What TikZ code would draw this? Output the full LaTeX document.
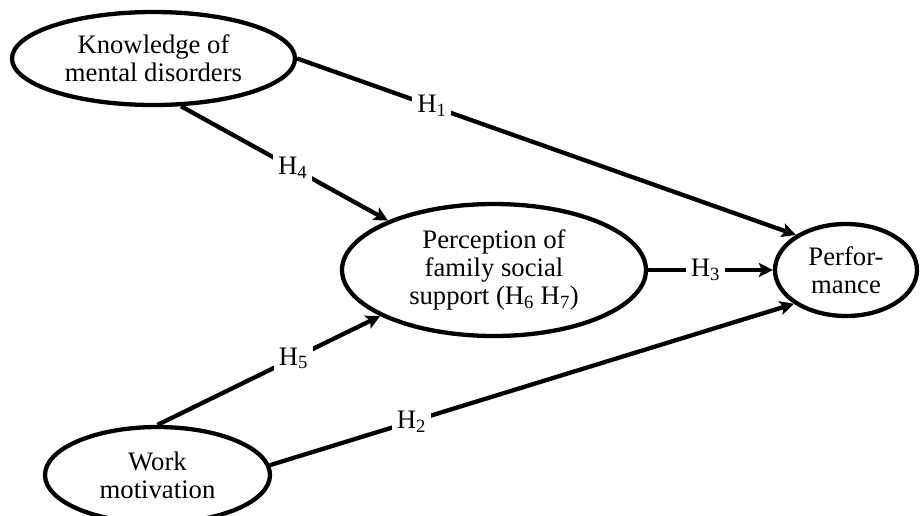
\documentclass[tikz,border=0pt]{standalone}
\usepackage{fontspec}
\setmainfont{Liberation Serif}
\usetikzlibrary{shapes.geometric,arrows.meta}

\begin{document}
\begin{tikzpicture}[x=1pt, y=-1pt,
    construct/.style={ellipse, draw, line width=4.3pt, inner sep=0pt, align=center,
      font=\fontsize{26.7}{28}\selectfont},
    hyp/.style={fill=white, inner sep=5pt, font=\fontsize{26.7}{28}\selectfont},
    >={Stealth[length=14pt,width=14pt,inset=3pt]}, line width=4.3pt]
      \useasboundingbox (0,0) rectangle (920,515);

      \node[construct, minimum width=283pt, minimum height=93pt] (know) at (153.5,58.5) {Knowledge of\\mental disorders};
      \node[construct, minimum width=304pt, minimum height=132pt] (perc) at (494,270) {Perception of\\family social\\support (H\textsubscript{6} H\textsubscript{7})};
      \node[construct, minimum width=142pt, minimum height=92pt] (perf) at (846,270) {Perfor-\\mance};
      \node[construct, minimum width=225pt, minimum height=96pt] (work) at (157.5,475) {Work\\motivation};

      \draw[->] (know.east) -- (perf.145) node[pos=0.27, hyp] {H\textsubscript{1}};
      \draw[->] (know.-60) -- (perc.155) node[pos=0.54, hyp] {H\textsubscript{4}};
      \draw[->] (work.north) -- (perc.202) node[pos=0.61, hyp] {H\textsubscript{5}};
      \draw[->] (work.5) -- (perf.213) node[pos=0.27, hyp] {H\textsubscript{2}};
      \draw[->] (perc.east) -- (perf.west) node[pos=0.46, hyp] {H\textsubscript{3}};
    \end{tikzpicture}
\end{document}
